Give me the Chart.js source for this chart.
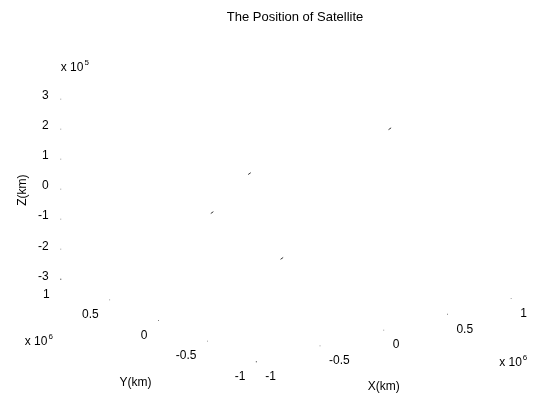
<!DOCTYPE html>
<html>
<head>
<meta charset="utf-8">
<script src="https://cdn.jsdelivr.net/npm/chart.js@4.4.1/dist/chart.umd.min.js"></script>
<style>
  html, body { margin: 0; padding: 0; background: #fff; }
  #wrap { width: 546px; height: 394px; position: relative; }
</style>
</head>
<body>
<div id="wrap"><canvas id="satChart"></canvas></div>
<script>
// satellite track samples (km)
const satX = [-413000, -527000, -86000, 489000];
const satY = [-165000, 69000, -70000, -425000];
const satZ = [150000, 0, -180000, 240000];

// axis ticks
const xTicks = [-1e6, -5e5, 0, 5e5, 1e6];
const yTicks = [-1e6, -5e5, 0, 5e5, 1e6];
const zTicks = [-3e5, -2e5, -1e5, 0, 1e5, 2e5, 3e5];
const xTickLabels = ['-1', '-0.5', '0', '0.5', '1'];
const yTickLabels = ['-1', '-0.5', '0', '0.5', '1'];
const zTickLabels = ['-3', '-2', '-1', '0', '1', '2', '3'];

const xLim = [-1e6, 1e6];
const yLim = [-1e6, 1e6];
const zLim = [-3e5, 3e5];
const AZ = -37.5, EL = 30;   // matlab default 3-D view

function norm(v, lim) { return 2 * (v - lim[0]) / (lim[1] - lim[0]) - 1; }

function project(x, y, z) {
  const a = AZ * Math.PI / 180, e = EL * Math.PI / 180;
  const xn = norm(x, xLim), yn = norm(y, yLim), zn = norm(z, zLim);
  return {
    x: Math.cos(a) * xn + Math.sin(a) * yn,
    y: -Math.sin(e) * Math.sin(a) * xn + Math.sin(e) * Math.cos(a) * yn + Math.cos(e) * zn
  };
}

const satPts = satX.map((x, i) => project(x, satY[i], satZ[i]));
const xTickPts = xTicks.map(v => project(v, yLim[0], zLim[0]));
const yTickPts = yTicks.map(v => project(xLim[0], v, zLim[0]));
const zTickPts = zTicks.map(v => project(xLim[0], yLim[1], v));

const FONT = '12px "Liberation Sans", Arial, sans-serif';

function drawExp(ctx, x, y, exp) {
  ctx.font = FONT;
  ctx.textAlign = 'left';
  ctx.textBaseline = 'alphabetic';
  ctx.fillText('x 10', x, y);
  const w = ctx.measureText('x 10').width;
  ctx.font = '8px "Liberation Sans", Arial, sans-serif';
  ctx.fillText(exp, x + w + 1, y - 6);
}

const axisText = {
  id: 'axisText',
  afterDatasetsDraw(chart) {
    const ctx = chart.ctx;
    const sx = chart.scales.x, sy = chart.scales.y;
    const px = p => [sx.getPixelForValue(p.x), sy.getPixelForValue(p.y)];
    ctx.save();
    ctx.fillStyle = '#000';
    ctx.font = FONT;

    // z tick labels
    ctx.textAlign = 'right';
    ctx.textBaseline = 'middle';
    zTickPts.forEach((p, i) => {
      const [x, y] = px(p);
      ctx.fillText(zTickLabels[i], x - 12, y - 3);
    });
    // y tick labels
    yTickPts.forEach((p, i) => {
      const [x, y] = px(p);
      ctx.fillText(yTickLabels[i], x - 11, y + 15);
    });
    // x tick labels
    ctx.textAlign = 'left';
    xTickPts.forEach((p, i) => {
      const [x, y] = px(p);
      ctx.fillText(xTickLabels[i], x + 9, y + 15);
    });

    // exponents
    const zTop = px(zTickPts[zTickPts.length - 1]);
    drawExp(ctx, zTop[0], zTop[1] - 28, '5');
    const yEnd = px(yTickPts[yTickPts.length - 1]);
    drawExp(ctx, yEnd[0] - 36, yEnd[1] + 66, '6');
    const xEnd = px(xTickPts[xTickPts.length - 1]);
    drawExp(ctx, xEnd[0] - 12, xEnd[1] + 68, '6');

    // axis titles
    ctx.font = FONT;
    ctx.textAlign = 'center';
    ctx.textBaseline = 'middle';
    const yMid = px(yTickPts[2]);
    ctx.fillText('Y(km)', yMid[0] - 23, yMid[1] + 62);
    const xMid = px(xTickPts[2]);
    ctx.fillText('X(km)', xMid[0], xMid[1] + 57);
    const zMid = px(zTickPts[3]);
    ctx.save();
    ctx.translate(zMid[0] - 38, zMid[1] + 1);
    ctx.rotate(-Math.PI / 2);
    ctx.fillText('Z(km)', 0, 0);
    ctx.restore();

    // title
    ctx.font = '13px "Liberation Sans", Arial, sans-serif';
    ctx.fillText('The Position of Satellite', chart.width / 2 + 22, 17);
    ctx.restore();
  }
};

new Chart(document.getElementById('satChart'), {
  type: 'scatter',
  data: {
    datasets: [
      {
        label: 'Satellite',
        data: satPts,
        pointStyle: 'line',
        rotation: -35,
        radius: 1.6,
        borderColor: '#333',
        borderWidth: 1,
        clip: false
      },
      {
        label: 'Ticks',
        data: [...xTickPts, ...yTickPts, ...zTickPts],
        pointStyle: 'rect',
        radius: 0.6,
        backgroundColor: '#666',
        borderWidth: 0,
        clip: false
      }
    ]
  },
  options: {
    responsive: true,
    maintainAspectRatio: false,
    animation: false,
    layout: { padding: 0 },
    plugins: { legend: { display: false }, tooltip: { enabled: false }, title: { display: false } },
    scales: {
      x: { type: 'linear', display: false, min: -1.7494, max: 1.588 },
      y: { type: 'linear', display: false, min: -1.8294, max: 1.8632 }
    }
  },
  plugins: [axisText]
});
</script>
</body>
</html>
